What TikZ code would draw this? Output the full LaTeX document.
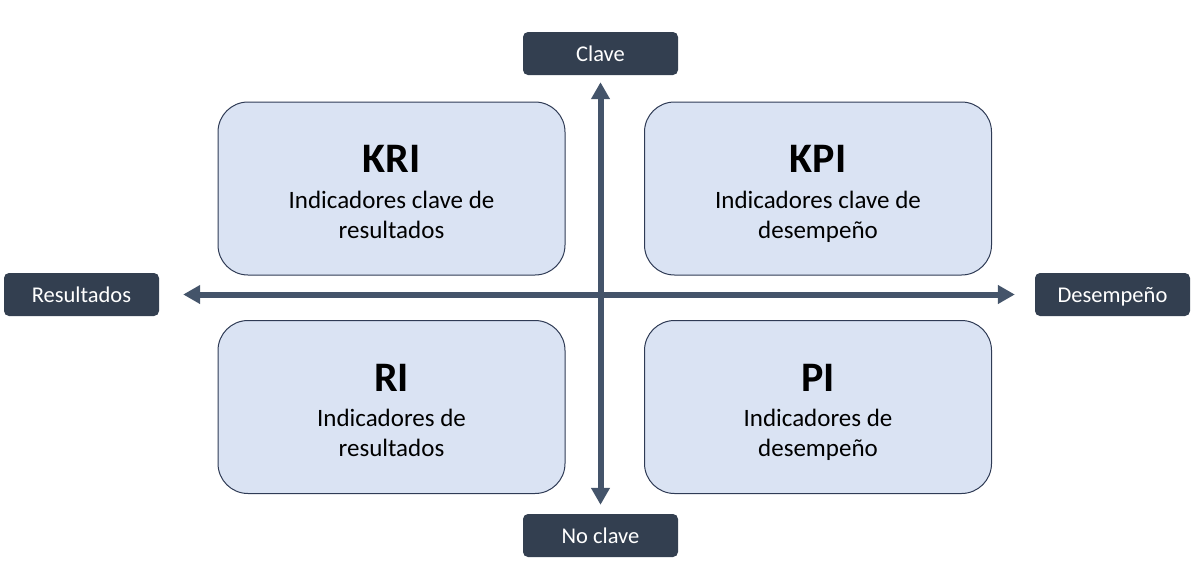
\documentclass[tikz,border=0pt]{standalone}
\usepackage{fontspec}
\setmainfont{Carlito}
\usetikzlibrary{arrows.meta}
\definecolor{tagfill}{HTML}{333F50}
\definecolor{axisgray}{HTML}{44546A}
\definecolor{quadfill}{HTML}{DAE3F3}
\definecolor{quadline}{HTML}{2F3B55}
\begin{document}
\begin{tikzpicture}[x=1pt,y=-1pt,
    tag/.style={fill=tagfill,text=white,rounded corners=5pt,minimum width=155pt,minimum height=43pt,inner sep=0pt,text height=16pt,text depth=1pt,font=\fontsize{22.5}{26}\selectfont},
    quad/.style={fill=quadfill,draw=quadline,line width=1pt,rounded corners=30pt,minimum width=347pt,minimum height=173pt},
    head/.style={font=\fontsize{42}{42}\selectfont\bfseries,inner sep=0pt,anchor=base},
    desc/.style={font=\fontsize{25}{30}\selectfont,align=center,inner sep=0pt,anchor=north},
    axis/.style={line width=6pt,draw=axisgray,{Triangle[width=18pt,length=17pt]}-{Triangle[width=18pt,length=17pt]}}]
    \useasboundingbox (0,0) rectangle (1196,587);
    % labels of the axes
    \node[tag] (clave) at (600.5,53.5) {Clave};
    \node[tag] (noclave) at (600.5,535.5) {No clave};
    \node[tag] (result) at (81.5,294.5) {Resultados};
    \node[tag] (desemp) at (1112.5,294.5) {Desempeño};
    % quadrants
    \node[quad] (kri) at (391.5,188.5) {};
    \node[quad] (kpi) at (818,188.5) {};
    \node[quad] (ri) at (391.5,407) {};
    \node[quad] (pi) at (818,407) {};
    \node[head] (kri-h) at ([yshift=-71pt]kri.north) {KRI};
    \node[head] (kpi-h) at ([yshift=-71pt]kpi.north) {KPI};
    \node[head] (ri-h) at ([yshift=-71pt]ri.north) {RI};
    \node[head] (pi-h) at ([yshift=-71pt]pi.north) {PI};
    \node[desc] (kri-d) at ([yshift=-89pt]kri.north) {Indicadores clave de\\resultados};
    \node[desc] (kpi-d) at ([yshift=-89pt]kpi.north) {Indicadores clave de\\desempeño};
    \node[desc] (ri-d) at ([yshift=-89pt]ri.north) {Indicadores de\\resultados};
    \node[desc] (pi-d) at ([yshift=-89pt]pi.north) {Indicadores de\\desempeño};
    % axes
    \draw[axis] ([yshift=9pt]noclave.north) -- ([yshift=-7pt]clave.south);
    \draw[axis] ([xshift=24pt]result.east) -- ([xshift=-20pt]desemp.west);
\end{tikzpicture}
\end{document}
